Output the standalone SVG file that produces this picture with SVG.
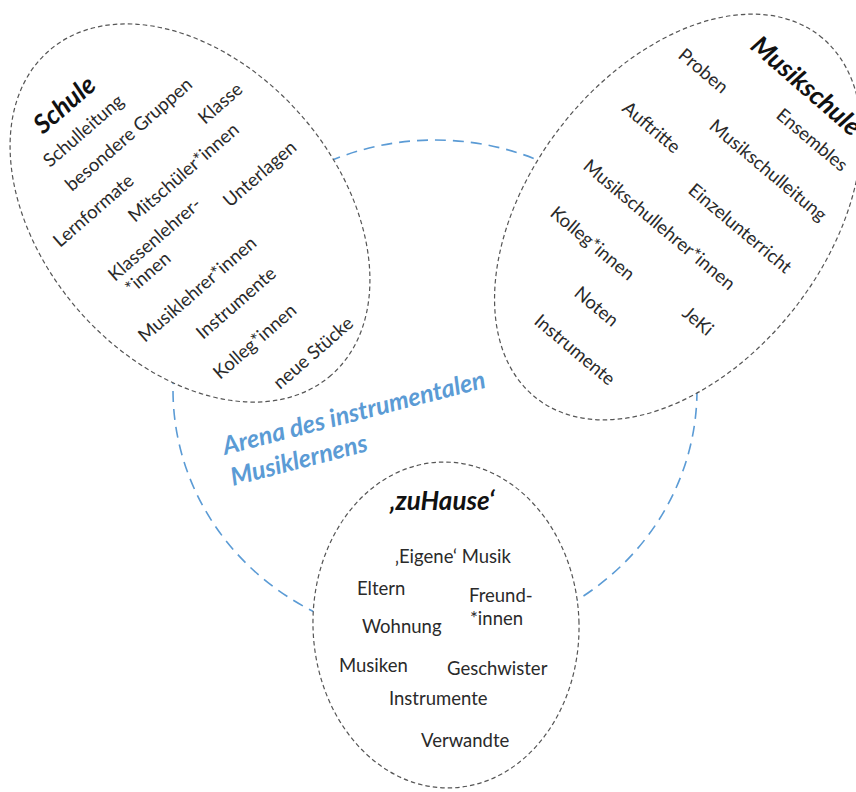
<svg xmlns="http://www.w3.org/2000/svg" width="856" height="792" viewBox="0 0 856 792">
  <style>
    .field { fill: #ffffff; stroke: #555555; stroke-width: 1.2; stroke-dasharray: 4.5 3; }
    .arena { fill: none; stroke: #5b9bd5; stroke-width: 1.6; stroke-dasharray: 11 7; }
    .item { font-family: Lato, "Liberation Sans", sans-serif; font-size: 18.5px; fill: #2a2a2a; }
    .title { font-family: Lato, "Liberation Sans", sans-serif; font-size: 26px; font-weight: bold; font-style: italic; fill: #111111; }
    .arena-label { font-family: Lato, "Liberation Sans", sans-serif; font-size: 25px; font-weight: bold; font-style: italic; fill: #5b9bd5; }
  </style>

  <rect width="856" height="792" fill="#ffffff"/>

  <!-- outer arena, partly covered by the three fields -->
  <g id="arena">
    <ellipse class="arena" cx="435" cy="390" rx="262" ry="250"/>
  </g>

  <!-- Schule -->
  <g id="schule">
    <ellipse class="field" cx="0" cy="0" rx="215" ry="148" transform="translate(190 213) rotate(49)"/>
    <text class="title" transform="translate(43 135) rotate(-41)">Schule</text>
    <text class="item" transform="translate(50 168) rotate(-41)">Schulleitung</text>
    <text class="item" transform="translate(72 192) rotate(-41)">besondere Gruppen</text>
    <text class="item" transform="translate(205 125) rotate(-41)">Klasse</text>
    <text class="item" transform="translate(60 248) rotate(-41)">Lernformate</text>
    <text class="item" transform="translate(135 223) rotate(-41)">Mitschüler*innen</text>
    <text class="item" transform="translate(230 208) rotate(-41)">Unterlagen</text>
    <text class="item" transform="translate(115 282) rotate(-41)">Klassenlehrer-</text>
    <text class="item" transform="translate(132 295) rotate(-41)">*innen</text>
    <text class="item" transform="translate(145 343) rotate(-41)">Musiklehrer*innen</text>
    <text class="item" transform="translate(203 340) rotate(-41)">Instrumente</text>
    <text class="item" transform="translate(220 380) rotate(-41)">Kolleg*innen</text>
    <text class="item" transform="translate(280 390) rotate(-41)">neue Stücke</text>
  </g>

  <!-- Musikschule -->
  <g id="musikschule">
    <ellipse class="field" cx="0" cy="0" rx="230" ry="148" transform="translate(678 217) rotate(-52)"/>
    <text class="title" transform="translate(749 48) rotate(41)">Musikschule</text>
    <text class="item" transform="translate(677 57) rotate(40)">Proben</text>
    <text class="item" transform="translate(775 117) rotate(40)">Ensembles</text>
    <text class="item" transform="translate(621 110) rotate(40)">Auftritte</text>
    <text class="item" transform="translate(708 128) rotate(40)">Musikschulleitung</text>
    <text class="item" transform="translate(582 168) rotate(40)">Musikschullehrer*innen</text>
    <text class="item" transform="translate(687 192) rotate(40)">Einzelunterricht</text>
    <text class="item" transform="translate(549 215) rotate(40)">Kolleg*innen</text>
    <text class="item" transform="translate(573 295) rotate(40)">Noten</text>
    <text class="item" transform="translate(681 315) rotate(40)">JeKi</text>
    <text class="item" transform="translate(533 323) rotate(40)">Instrumente</text>
  </g>

  <!-- zuHause -->
  <g id="zuhause">
    <ellipse class="field" cx="0" cy="0" rx="133" ry="163" transform="translate(446 625) rotate(-2)"/>
    <text class="title" x="390" y="510">‚zuHause‘</text>
    <text class="item" x="395" y="563">‚Eigene‘ Musik</text>
    <text class="item" x="357" y="595">Eltern</text>
    <text class="item" x="469" y="602">Freund-</text>
    <text class="item" x="470" y="625">*innen</text>
    <text class="item" x="362" y="633">Wohnung</text>
    <text class="item" x="339" y="672">Musiken</text>
    <text class="item" x="447" y="675">Geschwister</text>
    <text class="item" x="389" y="705">Instrumente</text>
    <text class="item" x="421" y="747">Verwandte</text>
  </g>

  <!-- arena caption -->
  <g id="arena-caption" transform="translate(225 455) rotate(-14.5)">
    <text class="arena-label" x="0" y="0">Arena des instrumentalen</text>
    <text class="arena-label" x="0" y="32">Musiklernens</text>
  </g>
</svg>
